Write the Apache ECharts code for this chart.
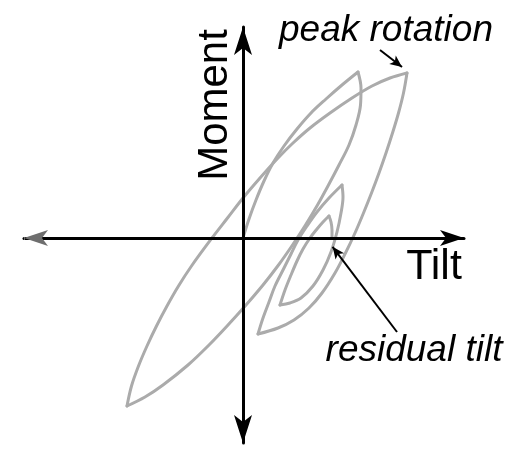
<!DOCTYPE html>
<html>
<head>
<meta charset="utf-8">
<script src="https://cdn.jsdelivr.net/npm/echarts/dist/echarts.min.js"></script>
<style>
  html, body { margin: 0; padding: 0; background: #fff; }
  #chart { width: 507px; height: 462px; }
</style>
</head>
<body>
<div id="chart"></div>
<script>
// Cyclic tilt / moment response, one array of [tilt, moment] pairs per branch (arbitrary units)
const firstLoad = [
  [0, 0], [0.6, 1.9], [1.3, 3.8], [2.1, 5.7], [3.0, 7.5], [4.1, 9.2],
  [5.4, 10.9], [6.8, 12.5], [8.3, 13.9], [9.9, 15.3], [11.5, 16.6]
];
const firstUnload = [
  [11.5, 16.6], [11.8, 15.0], [11.75, 13.3], [11.3, 11.3], [10.6, 9.3], [9.6, 7.3],
  [8.55, 5.3], [7.45, 3.3], [6.25, 1.3], [4.95, -0.7], [3.55, -2.7], [2.0, -4.7],
  [0.3, -6.7], [-1.5, -8.7], [-3.4, -10.7], [-5.5, -12.7], [-8.0, -14.7],
  [-9.8, -15.9], [-11.6, -16.8]
];
const secondLoad = [
  [-11.6, -16.8], [-11.15, -14.8], [-10.45, -12.8], [-9.6, -10.8], [-8.65, -8.8],
  [-7.6, -6.8], [-6.45, -4.8], [-5.15, -2.8], [-3.1, 0], [-1.55, 2.0], [0, 4.0],
  [1.7, 6.0], [3.5, 8.0], [5.0, 9.5], [6.7, 11.0], [8.7, 12.5], [10.9, 14.0],
  [12.9, 15.2], [14.7, 16.0], [16.4, 16.5]
];
const secondUnload = [
  [16.4, 16.5], [16.05, 14.5], [15.55, 12.5], [14.95, 10.5], [14.3, 8.5], [13.6, 6.5],
  [12.85, 4.5], [12.05, 2.5], [11.2, 0.5], [10.25, -1.5], [9.2, -3.5], [7.9, -5.5],
  [6.6, -7.0], [5.1, -8.2], [3.5, -9.0], [1.5, -9.6]
];
const thirdLoad = [
  [1.5, -9.6], [2.0, -8.0], [2.6, -6.4], [3.2, -4.8], [4.0, -3.2], [4.8, -1.6],
  [5.5, -0.2], [6.4, 1.2], [7.4, 2.6], [8.6, 4.0], [9.9, 5.3]
];
const thirdUnload = [
  [9.9, 5.3], [10.0, 4.1], [9.8, 2.5], [9.4, 0.6], [8.8, -1.4], [8.0, -3.2],
  [7.0, -4.8], [5.8, -6.0], [4.7, -6.5], [3.7, -6.7]
];
const fourthLoad = [
  [3.7, -6.7], [4.2, -5.2], [4.8, -3.7], [5.4, -2.3], [6.0, -1.1], [6.7, 0],
  [7.4, 0.9], [8.0, 1.6], [8.6, 2.2]
];
const finalUnload = [
  [8.6, 2.2], [8.8, 1.6], [8.9, 0.8], [8.9, 0]
];

// Annotation arrows: [start, end] in tilt / moment units
const peakArrow = [[13.7, 18.8], [15.9, 17.1]];
const residualArrow = [[15.4, -9.4], [8.96, -0.88]];

// Axis extents
const tiltRange = [-21.9, 22.1];
const momentRange = [-20.5, 21.1];

const branches = [
  firstLoad, firstUnload, secondLoad, secondUnload,
  thirdLoad, thirdUnload, fourthLoad, finalUnload
];

const chart = echarts.init(document.getElementById('chart'), null, { renderer: 'canvas' });

const axisCommon = {
  type: 'value',
  axisTick: { show: false },
  axisLabel: { show: false },
  splitLine: { show: false },
  z: 4
};

const curveSeries = branches.map(function (d) {
  return {
    type: 'line',
    data: d,
    smooth: 0.35,
    symbol: 'none',
    showSymbol: false,
    silent: true,
    z: 2,
    lineStyle: { color: '#ababab', width: 3, cap: 'round', join: 'round' }
  };
});

const arrowSeries = {
  type: 'line',
  data: [],
  silent: true,
  markLine: {
    silent: true,
    animation: false,
    z: 6,
    label: { show: false },
    emphasis: { disabled: true },
    data: [
      // grey head on the negative tilt end
      [
        { coord: [tiltRange[0] + 0.1, 0], symbol: 'none',
          lineStyle: { color: '#6e6e6e', width: 3, type: 'solid' } },
        { coord: [tiltRange[0], 0], symbol: 'arrow', symbolSize: [12, 24] }
      ],
      [
        { coord: peakArrow[0], symbol: 'none',
          lineStyle: { color: '#000', width: 2, type: 'solid' } },
        { coord: peakArrow[1], symbol: 'arrow', symbolSize: [8, 12] }
      ],
      [
        { coord: residualArrow[0], symbol: 'none',
          lineStyle: { color: '#000', width: 2, type: 'solid' } },
        { coord: residualArrow[1], symbol: 'arrow', symbolSize: [8, 12] }
      ]
    ]
  }
};

const labelFont = '"Liberation Sans", Arial, Helvetica, sans-serif';

chart.setOption({
  animation: false,
  backgroundColor: '#fff',
  grid: { left: 24, right: 43, top: 27, bottom: 19 },
  xAxis: Object.assign({}, axisCommon, {
    min: tiltRange[0],
    max: tiltRange[1],
    axisLine: {
      show: true, onZero: true,
      symbol: ['none', 'arrow'],
      symbolSize: [12, 24],
      lineStyle: { color: '#000', width: 3 }
    }
  }),
  yAxis: Object.assign({}, axisCommon, {
    min: momentRange[0],
    max: momentRange[1],
    axisLine: {
      show: true, onZero: true,
      symbol: ['arrow', 'arrow'],
      symbolSize: [13.5, 28],
      lineStyle: { color: '#000', width: 3 }
    }
  }),
  series: curveSeries.concat([arrowSeries]),
  graphic: [
    {
      type: 'text', x: 215, y: 105, rotation: Math.PI / 2, silent: true,
      style: { text: 'Moment', font: '42px ' + labelFont, fill: '#000',
               align: 'center', verticalAlign: 'middle' }
    },
    {
      type: 'text', x: 434, y: 267, silent: true,
      style: { text: 'Tilt', font: '43px ' + labelFont, fill: '#000',
               align: 'center', verticalAlign: 'middle' }
    },
    {
      type: 'text', x: 386, y: 31, silent: true,
      style: { text: 'peak rotation', font: 'italic 37px ' + labelFont, fill: '#000',
               align: 'center', verticalAlign: 'middle' }
    },
    {
      type: 'text', x: 414, y: 351, silent: true,
      style: { text: 'residual tilt', font: 'italic 37px ' + labelFont, fill: '#000',
               align: 'center', verticalAlign: 'middle' }
    }
  ]
});
</script>
</body>
</html>
